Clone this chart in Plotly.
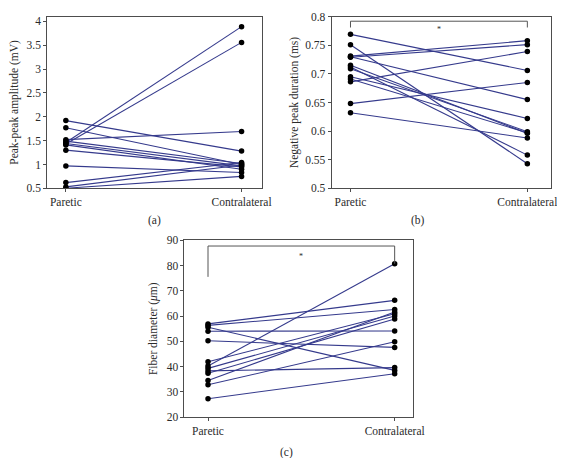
import plotly.graph_objects as go

# ---------------- data ----------------
categories = ["Paretic", "Contralateral"]

# (a) Peak-peak amplitude (mV)
amp_paretic = [1.46, 1.43, 1.92, 1.77, 1.52, 1.49, 1.44, 1.30, 0.97, 0.62, 0.53, 0.50, 1.41]
amp_contra  = [3.89, 3.56, 1.28, 1.00, 1.69, 1.02, 0.97, 0.95, 0.83, 1.04, 0.99, 0.75, 0.90]
amp_ticks = [0.5, 1, 1.5, 2, 2.5, 3, 3.5, 4]
amp_ticktext = ["0.5", "1", "1.5", "2", "2.5", "3", "3.5", "4"]

# (b) Negative peak duration (ms)
dur_paretic = [0.769, 0.751, 0.731, 0.729, 0.730, 0.715, 0.712, 0.709, 0.695, 0.691, 0.686, 0.648, 0.632]
dur_contra  = [0.706, 0.543, 0.758, 0.751, 0.655, 0.596, 0.558, 0.599, 0.622, 0.597, 0.739, 0.685, 0.588]
dur_ticks = [0.5, 0.55, 0.6, 0.65, 0.7, 0.75, 0.8]
dur_ticktext = ["0.5", "0.55", "0.6", "0.65", "0.7", "0.75", "0.8"]
dur_bracket = [0.792, 0.781]   # bracket top, bracket leg end

# (c) Fiber diameter (um)
fib_paretic = [56.9, 56.3, 55.6, 54.0, 50.2, 41.9, 40.2, 39.3, 38.3, 37.4, 34.5, 32.8, 27.3]
fib_contra  = [66.2, 62.6, 38.5, 54.1, 47.6, 60.9, 80.7, 60.0, 39.6, 58.8, 61.6, 49.8, 37.2]
fib_ticks = [20, 30, 40, 50, 60, 70, 80, 90]
fib_ticktext = ["20", "30", "40", "50", "60", "70", "80", "90"]
fib_bracket = [87.7, 75.5, 80.7]  # bracket top, left leg end, right leg end

LINE_COLOR = "#353a8c"
AXIS_COLOR = "#4d4d4d"
FONT = "Liberation Serif"
TEXT_COLOR = "#2b2b2b"
FS = 11.5

fig = go.Figure()


def add_pairs(pre, post, xa, ya):
    xs, ys = [], []
    for a, b in zip(pre, post):
        xs += [0, 1, None]
        ys += [a, b, None]
    fig.add_trace(go.Scatter(x=xs, y=ys, mode="lines", xaxis=xa, yaxis=ya,
                             line=dict(color=LINE_COLOR, width=1.1), showlegend=False,
                             hoverinfo="skip"))
    fig.add_trace(go.Scatter(x=[0] * len(pre) + [1] * len(post), y=list(pre) + list(post),
                             mode="markers", xaxis=xa, yaxis=ya,
                             marker=dict(color="black", size=5.5), showlegend=False))


add_pairs(amp_paretic, amp_contra, "x", "y")
add_pairs(dur_paretic, dur_contra, "x2", "y2")
add_pairs(fib_paretic, fib_contra, "x3", "y3")

W, H = 565, 458


def xdom(l, r):
    return [l / W, r / W]


def ydom(top, bot):
    return [1 - bot / H, 1 - top / H]


common_x = dict(tickvals=[0, 1], ticktext=categories, showline=True, mirror=True,
                linecolor=AXIS_COLOR, linewidth=1, ticks="outside", ticklen=3,
                tickcolor=AXIS_COLOR, showgrid=False, zeroline=False,
                tickfont=dict(family=FONT, size=FS, color=TEXT_COLOR))
common_y = dict(showline=True, mirror=True, linecolor=AXIS_COLOR, linewidth=1,
                ticks="outside", ticklen=3, tickcolor=AXIS_COLOR, showgrid=False,
                zeroline=False, tickfont=dict(family=FONT, size=FS, color=TEXT_COLOR))

fig.update_layout(
    width=W, height=H, margin=dict(l=0, r=0, t=0, b=0),
    plot_bgcolor="white", paper_bgcolor="white",
    font=dict(family=FONT, size=FS, color=TEXT_COLOR),
    xaxis=dict(domain=xdom(40, 259), range=[-0.106, 1.116], anchor="y", **common_x),
    yaxis=dict(domain=ydom(2.7, 179), range=[0.5, 4.1], anchor="x",
               tickvals=amp_ticks, ticktext=amp_ticktext,
               title=dict(text="Peak-peak amplitude (mV)", standoff=5,
                          font=dict(family=FONT, size=FS, color=TEXT_COLOR)), **common_y),
    xaxis2=dict(domain=xdom(330, 554), range=[-0.107, 1.135], anchor="y2", **common_x),
    yaxis2=dict(domain=ydom(2.7, 179), range=[0.5, 0.8], anchor="x2",
                tickvals=dur_ticks, ticktext=dur_ticktext,
                title=dict(text="Negative peak duration (ms)", standoff=4,
                           font=dict(family=FONT, size=FS, color=TEXT_COLOR)), **common_y),
    xaxis3=dict(domain=xdom(180, 413), range=[-0.126, 1.098], anchor="y3", **common_x),
    yaxis3=dict(domain=ydom(232.3, 414), range=[20, 90], anchor="x3",
                tickvals=fib_ticks, ticktext=fib_ticktext,
                title=dict(text="Fiber diameter (<i>μ</i>m)", standoff=6,
                           font=dict(family=FONT, size=FS, color=TEXT_COLOR)), **common_y),
)

BR = "#555555"
# bracket (b)
fig.add_shape(type="line", xref="x2", yref="y2", x0=0, x1=1, y0=dur_bracket[0], y1=dur_bracket[0],
              line=dict(color=BR, width=1))
fig.add_shape(type="line", xref="x2", yref="y2", x0=0, x1=0, y0=dur_bracket[0], y1=dur_bracket[1],
              line=dict(color=BR, width=1))
fig.add_shape(type="line", xref="x2", yref="y2", x0=1, x1=1, y0=dur_bracket[0], y1=dur_bracket[1],
              line=dict(color=BR, width=1))
fig.add_annotation(xref="x2", yref="y2", x=0.5, y=dur_bracket[0], text="*", showarrow=False,
                   yanchor="top", yshift=-2, font=dict(family=FONT, size=8, color=TEXT_COLOR))
# bracket (c)
fig.add_shape(type="line", xref="x3", yref="y3", x0=0, x1=1, y0=fib_bracket[0], y1=fib_bracket[0],
              line=dict(color=BR, width=1))
fig.add_shape(type="line", xref="x3", yref="y3", x0=0, x1=0, y0=fib_bracket[0], y1=fib_bracket[1],
              line=dict(color=BR, width=1))
fig.add_shape(type="line", xref="x3", yref="y3", x0=1, x1=1, y0=fib_bracket[0], y1=fib_bracket[2],
              line=dict(color=BR, width=1))
fig.add_annotation(xref="x3", yref="y3", x=0.5, y=fib_bracket[0], text="*", showarrow=False,
                   yanchor="top", yshift=-4, font=dict(family=FONT, size=8, color=TEXT_COLOR))

# panel labels
for txt, px, py in [("(a)", 149, 212), ("(b)", 418, 212), ("(c)", 284, 450)]:
    fig.add_annotation(xref="paper", yref="paper", x=px / W, y=1 - py / H, text=txt,
                       showarrow=False, xanchor="center", yanchor="middle",
                       font=dict(family=FONT, size=FS, color=TEXT_COLOR))

fig.write_html("out.html")
